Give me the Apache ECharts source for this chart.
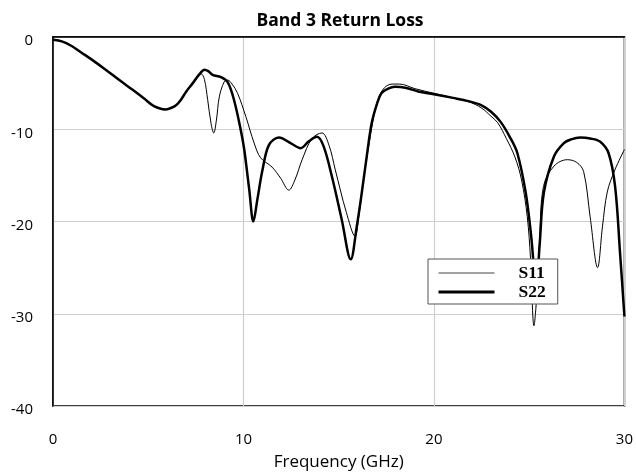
<!DOCTYPE html>
<html>
<head>
<meta charset="utf-8">
<script src="https://cdn.jsdelivr.net/npm/echarts@6/dist/echarts.min.js"></script>
<style>
  html, body { margin: 0; padding: 0; background: #fff; }
  #chart { width: 636px; height: 476px; }
</style>
</head>
<body>
<div id="chart"></div>
<script>
// [frequency GHz, return loss dB]
var s11 = [
  [0, -0.3], [0.5, -0.5], [1, -1.0], [1.5, -1.7], [2, -2.4], [2.8, -3.6], [3.5, -4.7],
  [4.2, -5.75], [4.8, -6.7], [5.3, -7.5], [5.9, -7.85], [6.4, -7.5], [6.65, -7.0],
  [7.0, -5.9], [7.34, -5.1], [7.6, -4.3], [7.78, -4.0], [7.95, -4.6], [8.12, -6.8],
  [8.3, -9.4], [8.44, -10.4], [8.58, -9.0], [8.73, -6.5], [8.99, -4.85], [9.17, -4.67],
  [9.4, -5.1], [9.69, -6.1], [10.12, -8.6], [10.56, -11.5], [10.9, -13.1], [11.5, -14.1],
  [11.95, -15.3], [12.38, -16.6], [12.7, -15.5], [13.08, -13.3], [13.6, -11.0], [14.12, -10.4],
  [14.5, -11.8], [14.82, -14.4], [15.4, -19.0], [15.86, -21.6], [16.05, -19.5], [16.3, -15.5],
  [16.6, -11.5], [16.85, -8.5], [17.1, -6.6], [17.4, -5.5], [17.8, -5.1], [18.2, -5.1],
  [19.0, -5.6], [20.0, -6.1], [21.0, -6.6], [21.8, -7.0], [22.5, -7.7], [23.0, -8.6],
  [23.35, -9.3], [23.8, -11.0], [24.25, -13.0], [24.6, -15.5], [24.9, -19.5], [25.07, -24.0],
  [25.25, -31.3], [25.4, -28.0], [25.55, -22.0], [25.75, -16.2], [26.3, -14.0], [27.0, -13.3],
  [27.5, -13.6], [27.86, -14.6], [28.2, -19.5], [28.59, -25.0], [28.85, -20.5], [29.1, -16.8],
  [29.5, -14.4], [30, -12.2]
];
var s22 = [
  [0, -0.3], [0.5, -0.5], [1, -1.0], [1.5, -1.7], [2, -2.4], [2.8, -3.6], [3.5, -4.7],
  [4.2, -5.75], [4.8, -6.7], [5.3, -7.5], [5.9, -7.85], [6.4, -7.5], [6.65, -7.0],
  [7.0, -5.9], [7.34, -5.0], [7.7, -4.0], [7.95, -3.55], [8.15, -3.7], [8.38, -4.1],
  [8.82, -4.35], [9.17, -4.9], [9.5, -6.8], [9.86, -10.1], [10.04, -12.2], [10.3, -16.5],
  [10.52, -20.0], [10.73, -17.6], [11.0, -14.4], [11.34, -11.7], [11.86, -10.9], [12.47, -11.5],
  [13.0, -12.05], [13.43, -11.3], [13.86, -10.8], [14.2, -11.8], [14.64, -15.1], [15.16, -19.8],
  [15.63, -24.1], [15.95, -20.5], [16.21, -16.9], [16.5, -12.5], [16.73, -9.35], [17.0, -7.3],
  [17.24, -6.1], [17.6, -5.6], [17.95, -5.4], [18.5, -5.5], [19.17, -5.9], [20.0, -6.2],
  [21.0, -6.6], [21.8, -6.95], [22.5, -7.4], [23.0, -8.1], [23.5, -9.2], [24.0, -10.9],
  [24.38, -12.6], [24.82, -16.9], [25.1, -21.5], [25.37, -27.0], [25.55, -22.5], [25.77, -16.9],
  [26.3, -12.95], [26.82, -11.5], [27.2, -11.1], [27.68, -10.9], [28.2, -11.0], [28.73, -11.35],
  [29.17, -12.6], [29.51, -16.2], [29.77, -23.4], [30, -30.3]
];
var seriesNames = ["S11", "S22"];

var myChart = echarts.init(document.getElementById("chart"));
var labelFont = "Open Sans";

var option = {
  animation: false,
  backgroundColor: "#fff",
  title: {
    text: "Band 3 Return Loss",
    left: 340,
    textAlign: "center",
    top: 12,
    padding: 0,
    textStyle: { fontFamily: labelFont, fontSize: 17.5, fontWeight: "bold", color: "#000" }
  },
  grid: {
    left: 53, right: 8, top: 37, bottom: 70,
    show: true, borderColor: "#000", borderWidth: 1.5
  },
  legend: {
    orient: "vertical",
    left: 428, top: 259,
    padding: [5, 12, 3, 9],
    itemGap: 1,
    itemWidth: 56, itemHeight: 14,
    backgroundColor: "#fff",
    borderColor: "#555", borderWidth: 1,
    itemStyle: { opacity: 0 },
    data: [
      { name: seriesNames[0], lineStyle: { color: "#444", width: 1 } },
      { name: seriesNames[1], lineStyle: { color: "#000", width: 3 } }
    ],
    textStyle: {
      fontFamily: "Liberation Serif", fontSize: 17.5, fontWeight: "bold",
      color: "#000", lineHeight: 18, padding: [0, 0, 0, 19]
    }
  },
  xAxis: {
    type: "value",
    min: 0, max: 30, interval: 10,
    name: "Frequency (GHz)",
    nameLocation: "middle",
    nameGap: 48,
    nameTextStyle: { fontFamily: labelFont, fontSize: 17, color: "#000" },
    axisLine: { show: true, lineStyle: { color: "#000", width: 1.5 } },
    axisTick: { show: false },
    axisLabel: { margin: 26, fontFamily: labelFont, fontSize: 15, color: "#000" },
    splitLine: { show: true, lineStyle: { color: "#cfcfcf", width: 1.2 } }
  },
  yAxis: {
    type: "value",
    min: -40, max: 0, interval: 10,
    axisLine: { show: true, lineStyle: { color: "#000", width: 1.5 } },
    axisTick: { show: false },
    axisLabel: {
      margin: 20, color: "#000",
      formatter: "{a|{value}}",
      rich: {
        a: { fontFamily: labelFont, fontSize: 15, color: "#000", padding: [8, 0, 0, 0] }
      }
    },
    splitLine: { show: true, lineStyle: { color: "#cfcfcf", width: 1.2 } }
  },
  series: [
    {
      name: seriesNames[0],
      type: "line",
      data: s11,
      smooth: 0.35,
      symbol: "none",
      lineStyle: { color: "#000", width: 1 },
      itemStyle: { color: "#000" },
      z: 3
    },
    {
      name: seriesNames[1],
      type: "line",
      data: s22,
      smooth: 0.35,
      symbol: "none",
      lineStyle: { color: "#000", width: 2.5 },
      itemStyle: { color: "#000" },
      z: 2
    }
  ]
};
myChart.setOption(option);
</script>
</body>
</html>
